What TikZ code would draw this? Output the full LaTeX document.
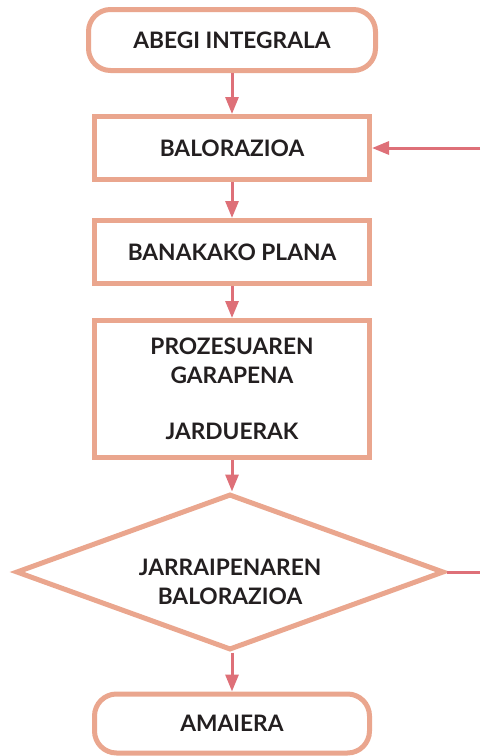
\documentclass[tikz,border=0pt]{standalone}
\usepackage{fontspec}
\setmainfont{Lato}
\usetikzlibrary{shapes.geometric,arrows.meta}

\definecolor{boxline}{RGB}{234,166,142}
\definecolor{arrowred}{RGB}{222,112,120}
\definecolor{ink}{RGB}{35,31,32}

\tikzset{
  box/.style={draw=boxline, line width=5pt, fill=white, minimum width=275pt, minimum height=63pt,
    align=center, text=ink, font=\bfseries\fontsize{22.7}{28.3}\selectfont},
  endbox/.style={box, rounded corners=22pt},
  decision/.style={diamond, draw=boxline, line width=5pt, fill=white, minimum width=428pt,
    minimum height=156pt, inner sep=0pt},
  txt/.style={align=center, text=ink, font=\bfseries\fontsize{22.7}{28.3}\selectfont},
  flow/.style={draw=arrowred, line width=3pt, -{Triangle[length=17pt,width=13pt]}},
  link/.style={draw=arrowred, line width=3pt},
}

\begin{document}
\begin{tikzpicture}[x=1pt,y=-1pt]
\useasboundingbox (0,0) rectangle (480,756);

\node[endbox, minimum width=287pt, minimum height=61pt] (start) at (232,40) {ABEGI INTEGRALA};
\node[box] (bal) at (232,148) {BALORAZIOA};
\node[box] (plan) at (232,252) {BANAKAKO PLANA};
\node[box, minimum height=137pt] (proz) at (232,389) {PROZESUAREN\\GARAPENA\\[28.3pt]JARDUERAK};
\node[decision] (jarr) at (230,572) {};
\node[txt] (jarrtxt) at (230,582) {JARRAIPENAREN\\BALORAZIOA};
\node[endbox, minimum height=59pt] (end) at (232,723.5) {AMAIERA};

\coordinate (back) at (480,148);
\coordinate (loop) at (480,572);

\draw[flow] (start) -- (bal);
\draw[flow] (bal) -- (plan);
\draw[flow] (plan) -- (proz);
\draw[flow] (proz) -- (jarr.north -| proz.south);
\draw[flow] (jarr.south -| end.north) -- (end);
\draw[link] (jarr.east) -- (loop);
\draw[flow] (back) -- (bal.east);

\end{tikzpicture}
\end{document}
